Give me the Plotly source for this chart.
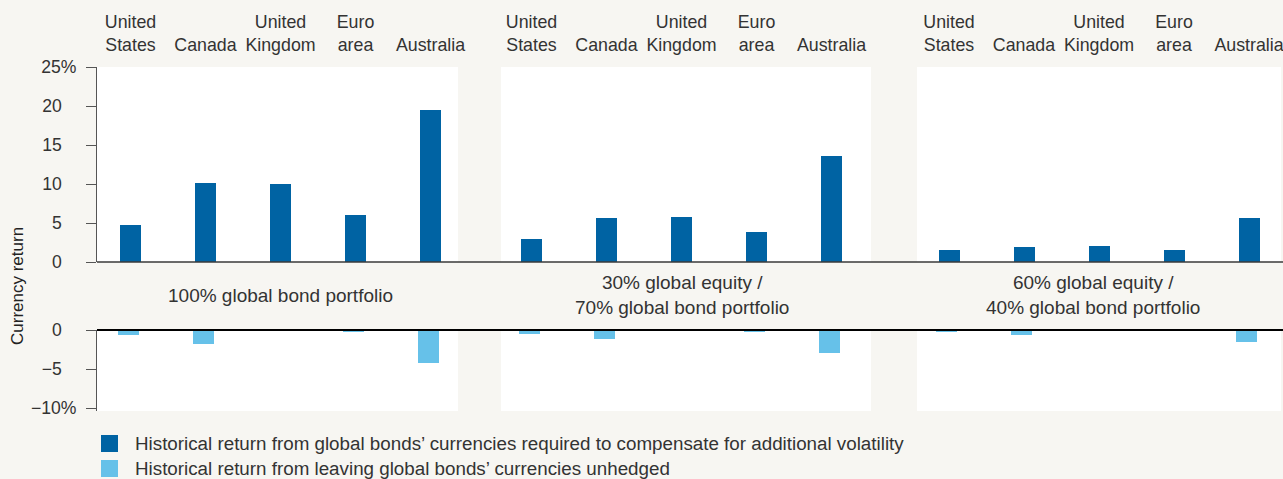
import plotly.graph_objects as go

# ---------------- data ----------------
categories = ["United States", "Canada", "United Kingdom", "Euro area", "Australia"]
category_labels = ["United<br>States", "Canada", "United<br>Kingdom", "Euro<br>area", "Australia"]
portfolios = [
    "100% global bond portfolio",
    "30% global equity /<br>70% global bond portfolio",
    "60% global equity /<br>40% global bond portfolio",
]
required_100_bond = [4.8, 10.1, 10.0, 6.0, 19.5]
required_30_70 = [3.0, 5.6, 5.8, 3.9, 13.6]
required_60_40 = [1.5, 1.9, 2.1, 1.5, 5.6]
unhedged_100_bond = [-0.7, -1.8, 0.0, -0.3, -4.2]
unhedged_30_70 = [-0.5, -1.2, 0.0, -0.2, -2.9]
unhedged_60_40 = [-0.3, -0.7, 0.0, -0.1, -1.6]
series_names = [
    "Historical return from global bonds’ currencies required to compensate for additional volatility",
    "Historical return from leaving global bonds’ currencies unhedged",
]
top_ticks = [0, 5, 10, 15, 20, 25]
bottom_ticks = [0, -5, -10]

# ---------------- styling / layout constants ----------------
W, H = 1283, 479
BG = "#f7f6f2"
DARK = "#0063a3"
LIGHT = "#66c1e9"
TXT = "#333333"
FONT = "Liberation Sans"
FS_TICK = 17.6
FS_CAT = 17.8
FS_GROUP = 19
FS_LEG = 18.8
FS_YT = 17
NB = "\u00a0"

def fx(p):
    return p / W

def fy(p):
    return 1 - p / H

panel_px = [(97, 458), (501, 871), (917, 1281)]
first_bar_center_px = [130.5, 531.5, 949.0]
unit_px = 75.0
top_rows_px = (67, 262)
bot_rows_px = (330, 411)
bottom_shift = 0.03
label_x = [2.0, 2.0, 1.92]

required = [required_100_bond, required_30_70, required_60_40]
unhedged = [unhedged_100_bond, unhedged_30_70, unhedged_60_40]

fig = go.Figure()
layout = dict(
    width=W, height=H,
    margin=dict(l=0, r=0, t=0, b=0, autoexpand=False),
    paper_bgcolor=BG, plot_bgcolor="white",
    font=dict(family=FONT, size=FS_CAT, color=TXT),
    showlegend=False, bargap=0,
)

shapes = []
annotations = []

for g in range(3):
    left, right = panel_px[g]
    r0 = -(first_bar_center_px[g] - left) / unit_px
    r1 = r0 + (right - left) / unit_px
    xt = "x" if g == 0 else f"x{g+1}"
    yt = "y" if g == 0 else f"y{g+1}"
    xb = f"x{g+4}"
    yb = f"y{g+4}"
    top_x_key = "xaxis" if g == 0 else f"xaxis{g+1}"
    top_y_key = "yaxis" if g == 0 else f"yaxis{g+1}"
    bot_x_key = f"xaxis{g+4}"
    bot_y_key = f"yaxis{g+4}"

    fig.add_trace(go.Bar(
        x=categories, y=required[g], xaxis=xt, yaxis=yt,
        marker=dict(color=DARK, line=dict(width=0)), width=0.28,
        name=series_names[0],
    ))
    fig.add_trace(go.Bar(
        x=categories, y=unhedged[g], xaxis=xb, yaxis=yb,
        marker=dict(color=LIGHT, line=dict(width=0)), width=0.28,
        name=series_names[1],
    ))

    layout[top_x_key] = dict(
        domain=[fx(left), fx(right)], anchor=yt, type="category",
        categoryorder="array", categoryarray=categories, automargin=False,
        range=[r0, r1], side="top", showline=False, showgrid=False,
        zeroline=False, ticks="", tickvals=categories, ticktext=category_labels,
        tickfont=dict(size=FS_CAT, color=TXT), ticklabelstandoff=11,
    )
    layout[bot_x_key] = dict(
        domain=[fx(left), fx(right)], anchor=yb, type="category",
        categoryorder="array", categoryarray=categories, automargin=False,
        range=[r0 + bottom_shift, r1 + bottom_shift], showline=False,
        showgrid=False, zeroline=False, showticklabels=False, ticks="",
    )
    ytop = dict(
        domain=[fy(top_rows_px[1]), fy(top_rows_px[0])], anchor=xt,
        range=[0, 25], showgrid=False, zeroline=False, automargin=False,
    )
    ybot = dict(
        domain=[fy(bot_rows_px[1]), fy(bot_rows_px[0])], anchor=xb,
        range=[-10.38, 0], showgrid=False, zeroline=False, automargin=False,
    )
    if g == 0:
        ytop.update(
            showline=True, linecolor="#555555", linewidth=1,
            ticks="outside", ticklen=10, tickcolor="#555555", tickwidth=1,
            tickvals=top_ticks,
            ticktext=[f"{v}%" if v == 25 else f"{v}{NB*3}" for v in top_ticks],
            tickfont=dict(size=FS_TICK, color=TXT), ticklabelstandoff=6,
        )
        ybot.update(
            showline=True, linecolor="#555555", linewidth=1,
            ticks="outside", ticklen=10, tickcolor="#555555", tickwidth=1,
            tickvals=bottom_ticks,
            ticktext=[
                (("−" if v < 0 else "") + f"{abs(v)}") + ("%" if v == -10 else NB * 3)
                for v in bottom_ticks
            ],
            tickfont=dict(size=FS_TICK, color=TXT), ticklabelstandoff=6,
        )
    else:
        ytop.update(showline=False, showticklabels=False, ticks="")
        ybot.update(showline=False, showticklabels=False, ticks="")
    layout[top_y_key] = ytop
    layout[bot_y_key] = ybot

    annotations.append(dict(
        text=portfolios[g], x=label_x[g], xref=xt, y=fy(295), yref="paper",
        xanchor="center", yanchor="middle", showarrow=False,
        font=dict(size=FS_GROUP, color=TXT), align="center",
    ))

# baselines across full width
shapes.append(dict(type="line", xref="paper", yref="paper",
                   x0=fx(97), x1=1, y0=fy(262), y1=fy(262),
                   line=dict(color="#3a3a3a", width=1.4)))
shapes.append(dict(type="line", xref="paper", yref="paper",
                   x0=fx(97), x1=1, y0=fy(330), y1=fy(330),
                   line=dict(color="#000000", width=1.8)))

# custom legend
for i, (col, name) in enumerate(zip([DARK, LIGHT], series_names)):
    top = 435 + 25 * i
    shapes.append(dict(type="rect", xref="paper", yref="paper",
                       x0=fx(101), x1=fx(118), y0=fy(top + 17), y1=fy(top),
                       fillcolor=col, line=dict(width=0)))
    annotations.append(dict(text=name, x=fx(133), y=fy(top + 8.5),
                            xref="paper", yref="paper", xanchor="left",
                            yanchor="middle", showarrow=False,
                            font=dict(size=FS_LEG, color=TXT)))

# y-axis title
annotations.append(dict(text="Currency return", x=fx(17), y=fy(286),
                        xref="paper", yref="paper", textangle=-90,
                        xanchor="center", yanchor="middle", showarrow=False,
                        font=dict(size=FS_YT, color="#222222")))

layout["shapes"] = shapes
layout["annotations"] = annotations
fig.update_layout(**layout)
fig.write_html(
    "out.html",
    config={"displayModeBar": False},
    post_script="document.body.style.margin='0';document.body.style.overflow='hidden';",
)
